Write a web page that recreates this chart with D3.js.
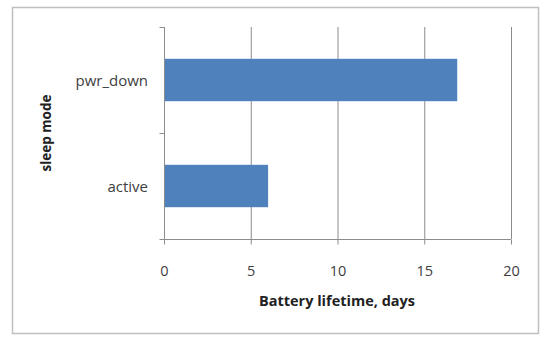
<!DOCTYPE html>
<html>
<head>
<meta charset="utf-8">
<script src="https://cdn.jsdelivr.net/npm/d3@7"></script>
<style>
  html, body { margin: 0; padding: 0; background: #ffffff; }
  svg { display: block; }
</style>
</head>
<body>
<svg id="chart" width="540" height="337"></svg>
<script>
// Battery lifetime per sleep mode
const categories = ["pwr_down", "active"];
const lifetimeDays = [16.9, 6.0];
const xTicks = [0, 5, 10, 15, 20];

const svg = d3.select("#chart");
const W = 540, H = 337;
const font = "Open Sans, 'Liberation Sans', sans-serif";

// chart frame
svg.append("rect")
  .attr("x", 12.5).attr("y", 7.5)
  .attr("width", W - 14).attr("height", H - 11)
  .attr("fill", "#fff")
  .attr("stroke", "#bfbfbf").attr("stroke-width", 1.5);

const plot = { left: 164, right: 511, top: 27, bottom: 239 };

const x = d3.scaleLinear().domain([0, 20]).range([plot.left, plot.right]);
const y = d3.scaleBand().domain(categories).range([plot.top, plot.bottom]).paddingInner(0.6).paddingOuter(0.3);

// vertical gridlines
svg.append("g")
  .selectAll("line")
  .data(xTicks.slice(1))
  .join("line")
  .attr("x1", d => x(d) + 0.5).attr("x2", d => x(d) + 0.5)
  .attr("y1", plot.top).attr("y2", plot.bottom)
  .attr("stroke", "#8c8c8c").attr("stroke-width", 1);

// bars
svg.append("g")
  .selectAll("rect")
  .data(categories)
  .join("rect")
  .attr("x", x(0))
  .attr("y", d => y(d))
  .attr("width", (d, i) => x(lifetimeDays[i]) - x(0))
  .attr("height", y.bandwidth())
  .attr("fill", "#4f81bd");

// x axis
const xAxis = svg.append("g")
  .attr("transform", `translate(0,${plot.bottom + 0.5})`)
  .call(d3.axisBottom(x).tickValues(xTicks).tickSize(5).tickPadding(21));
xAxis.select(".domain").attr("stroke", "#8c8c8c").attr("d", `M${plot.left},0H${plot.right}`);
xAxis.selectAll(".tick line").attr("stroke", "#8c8c8c");
xAxis.selectAll(".tick text")
  .attr("fill", "#404040")
  .style("font-family", font).style("font-size", "14.5px");

// y axis: ticks at category boundaries
const yAxisG = svg.append("g").attr("transform", `translate(${plot.left + 0.5},0)`);
yAxisG.append("line")
  .attr("x1", 0).attr("x2", 0)
  .attr("y1", plot.top).attr("y2", plot.bottom)
  .attr("stroke", "#8c8c8c");
const boundaries = [plot.top, (plot.top + plot.bottom) / 2, plot.bottom];
yAxisG.selectAll("line.tk")
  .data(boundaries)
  .join("line")
  .attr("class", "tk")
  .attr("x1", -5).attr("x2", 0)
  .attr("y1", d => d + 0.5).attr("y2", d => d + 0.5)
  .attr("stroke", "#8c8c8c");

// category labels
svg.append("g")
  .selectAll("text")
  .data(categories)
  .join("text")
  .attr("x", plot.left - 16)
  .attr("y", d => y(d) + y.bandwidth() / 2)
  .attr("text-anchor", "end")
  .attr("dominant-baseline", "central")
  .attr("fill", "#404040")
  .style("font-family", font).style("font-size", "15px")
  .text(d => d);

// axis titles
svg.append("text")
  .attr("x", 337)
  .attr("y", 300)
  .attr("text-anchor", "middle")
  .attr("dominant-baseline", "central")
  .attr("fill", "#222")
  .style("font-family", font).style("font-size", "14.5px").style("font-weight", "bold")
  .text("Battery lifetime, days");

svg.append("text")
  .attr("transform", `translate(46,${(plot.top + plot.bottom) / 2}) rotate(-90)`)
  .attr("text-anchor", "middle")
  .attr("dominant-baseline", "central")
  .attr("fill", "#222")
  .style("font-family", font).style("font-size", "13.5px").style("font-weight", "bold")
  .text("sleep mode");
</script>
</body>
</html>
